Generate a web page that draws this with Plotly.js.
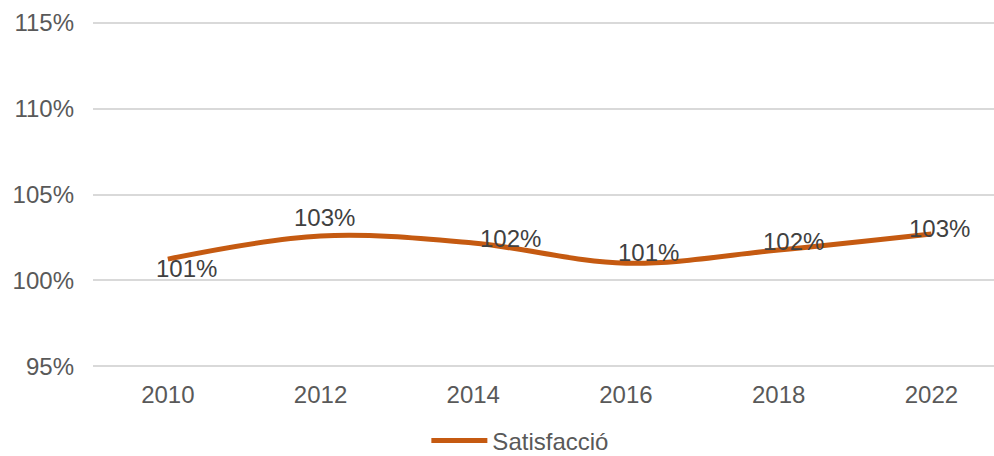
<!DOCTYPE html>
<html>
<head>
<meta charset="utf-8">
<script src="https://cdn.plot.ly/plotly-3.0.1.min.js"></script>
<style>
  html, body { margin: 0; padding: 0; background: #fff; }
  #chart { width: 994px; height: 456px; }
</style>
</head>
<body>
<div id="chart"></div>
<script>
// values
const years = ['2010', '2012', '2014', '2016', '2018', '2022'];
const satisfaccio = [101.24, 102.58, 102.17, 101.0, 101.77, 102.7];
const yTicks = [95, 100, 105, 110, 115];

// where Excel happened to put each data label, in px from the point
const labelShiftX = [19, 4, 37, 23, 15, 8];
const labelShiftY = [-9, 19, 5, 11, 8, 6];

const textFont = 'Liberation Sans, Arial, sans-serif';
const orange = '#C55A11';
const fontSize = 24;

const trace = {
    type: 'scatter',
    mode: 'lines',
    name: 'Satisfacció',
    x: years,
    y: satisfaccio,
    line: { color: orange, width: 5, shape: 'spline', smoothing: 1 },
    hoverinfo: 'skip'
};

const labels = years.map((yr, i) => ({
    x: i,
    y: satisfaccio[i],
    xref: 'x',
    yref: 'y',
    text: Math.round(satisfaccio[i]) + '%',
    showarrow: false,
    xshift: labelShiftX[i],
    yshift: labelShiftY[i],
    font: { family: textFont, size: fontSize, color: '#404040' }
}));

const layout = {
    width: 994,
    height: 456,
    margin: { l: 93, r: 0, t: 21, b: 88 },
    paper_bgcolor: '#fff',
    plot_bgcolor: '#fff',
    font: { family: textFont, size: fontSize, color: '#595959' },
    xaxis: {
        type: 'category',
        range: [-0.49, 5.41],
        showgrid: false,
        zeroline: false,
        showline: false,
        ticks: '',
        ticklabelstandoff: 10,
        tickfont: { size: fontSize, color: '#595959' }
    },
    yaxis: {
        range: [94.9, 115.1],
        tickvals: yTicks,
        ticktext: yTicks.map(v => v + '%'),
        showgrid: true,
        gridcolor: '#D9D9D9',
        gridwidth: 2,
        zeroline: false,
        showline: false,
        ticks: '',
        ticklabelstandoff: 18,
        tickfont: { size: fontSize, color: '#595959' }
    },
    showlegend: true,
    legend: {
        orientation: 'h',
        x: 0.37,
        xanchor: 'left',
        yref: 'container',
        y: 0.033,
        yanchor: 'middle',
        font: { size: fontSize, color: '#595959' },
        itemwidth: 56
    },
    annotations: labels
};

Plotly.newPlot('chart', [trace], layout, { staticPlot: true });
</script>
</body>
</html>
